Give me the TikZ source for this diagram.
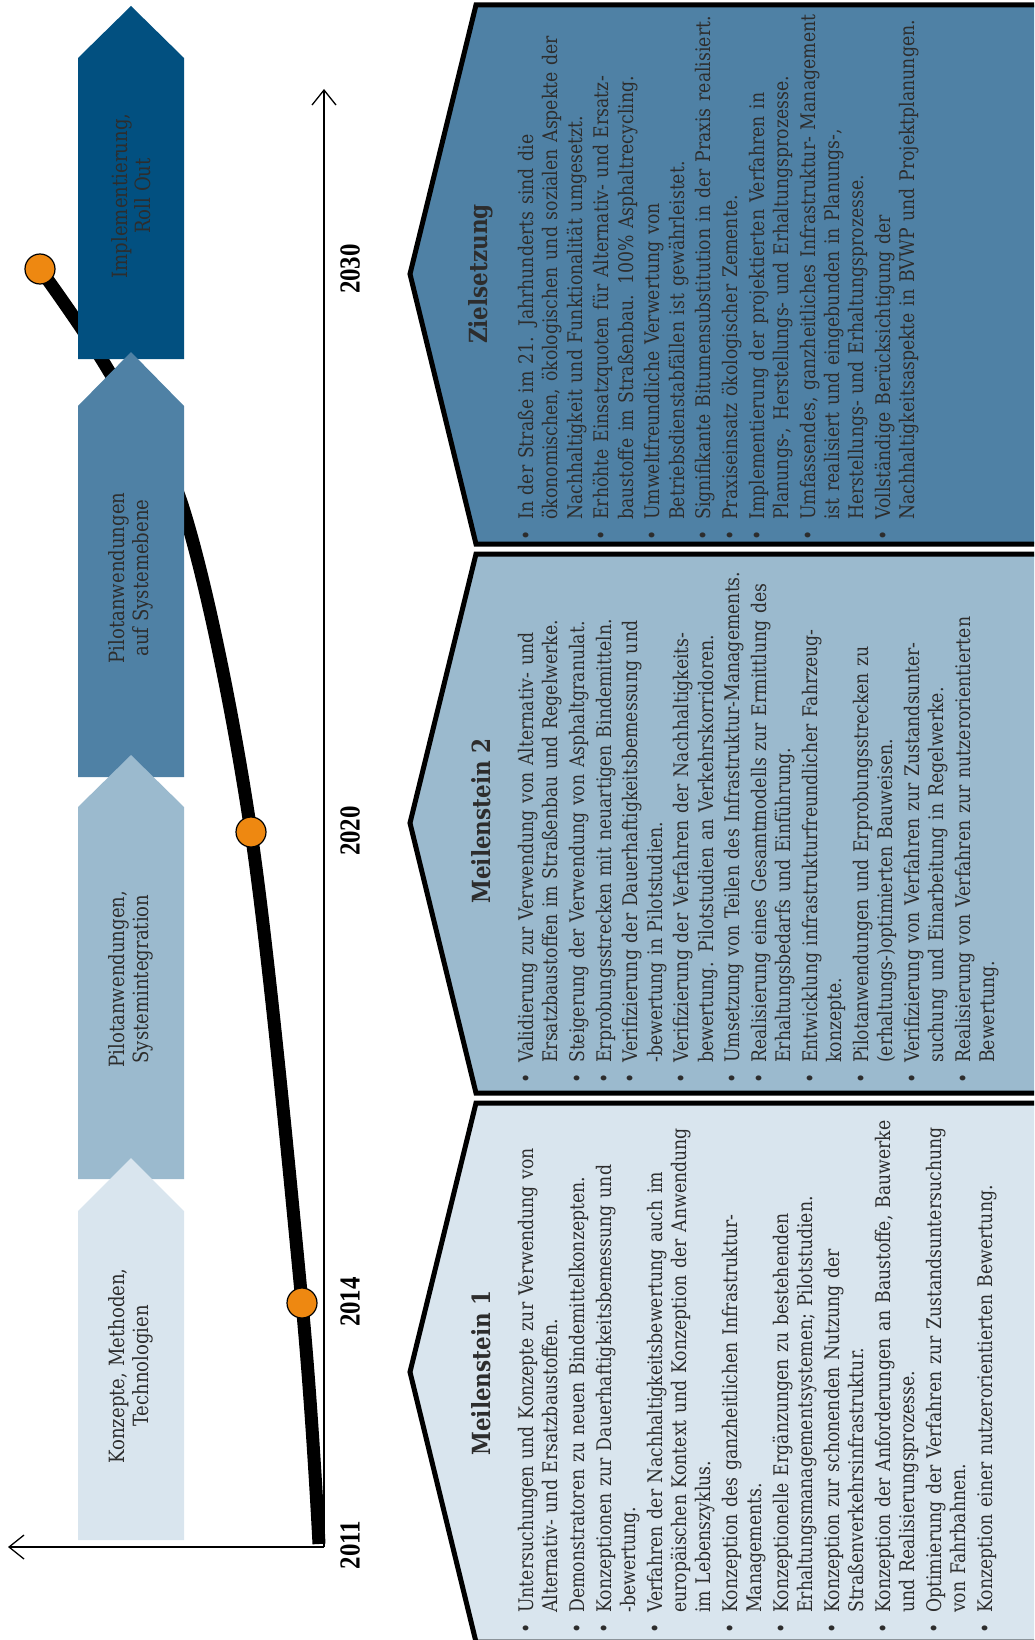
\documentclass[tikz,border=0pt]{standalone}
\usepackage{fontspec}
\setmainfont{DejaVu Serif}[FakeStretch=0.86]
\newfontfamily\yearfont[FakeStretch=0.86]{Liberation Serif}
\usetikzlibrary{arrows.meta}
\definecolor{phaseone}{RGB}{217,229,238}
\definecolor{phasetwo}{RGB}{155,186,206}
\definecolor{phasethree}{RGB}{79,129,165}
\definecolor{phasefour}{RGB}{2,80,128}
\definecolor{dotorange}{RGB}{238,136,17}
\definecolor{txtgray}{RGB}{45,45,45}

\newenvironment{goallist}{\raggedright\begin{list}{\textbullet}{%
  \setlength{\leftmargin}{22pt}\setlength{\labelwidth}{12pt}%
  \setlength{\labelsep}{10pt}\setlength{\itemsep}{2.4pt}%
  \setlength{\parsep}{0pt}\setlength{\topsep}{0pt}%
  \setlength{\partopsep}{0pt}\setlength{\itemindent}{0pt}}}{\end{list}}

\begin{document}
\begin{tikzpicture}[x=1pt, y=-1pt,
    phasetext/.style={rotate=90, align=center, text=txtgray,
      font=\fontsize{21}{23.5}\selectfont},
    yearlabel/.style={rotate=90, font=\yearfont\bfseries\fontsize{29}{30}\selectfont},
    milestone/.style={circle, draw=black, line width=1.2pt, fill=dotorange,
      minimum size=30pt, inner sep=0pt},
    growth/.style={line width=13pt, black},
    axisline/.style={line width=1.3pt, -{Straight Barb[length=15pt,width=24pt]}},
    goalframe/.style={line width=5pt, draw=black},
    goalhead/.style={rotate=90, text=txtgray, font=\bfseries\fontsize{25}{28}\selectfont},
    goalbox/.style={rotate=90, anchor=north west, text width=600pt, inner sep=0pt,
      text=txtgray, font=\fontsize{20.1}{24.3}\selectfont}]
    \useasboundingbox (0,0) rectangle (1034,1640);
    \clip (0,0) rectangle (1034,1640);
    \def\al{78}
    \def\ar{184}
    \def\am{131}
    % milestones on the curve
    \coordinate (c2011) at (319,1544);
    \coordinate (c2014) at (302,1303);
    \coordinate (c2020) at (251,832);
    \coordinate (c2030) at (40,269);
    \draw[growth] plot[smooth, tension=0.55] coordinates {(c2011) (c2014) (c2020) (184,511) (107,368) (c2030)};
    % phases
    \fill[phasefour] (\al,359) -- (\al,58) -- (\am,6) -- (\ar,58) -- (\ar,359) -- cycle;
    \fill[phasethree] (\al,777) -- (\al,406) -- (\am,352) -- (\ar,406) -- (\ar,777) -- cycle;
    \fill[phasetwo] (\al,1179) -- (\al,807) -- (\am,755) -- (\ar,807) -- (\ar,1179) -- cycle;
    \fill[phaseone] (\al,1540) -- (\al,1211) -- (\am,1158) -- (\ar,1211) -- (\ar,1540) -- cycle;
    \node[phasetext] (rollout) at (\am,196) {Implementierung,\\Roll Out};
    \node[phasetext] (pilotsys) at (\am,578) {Pilotanwendungen\\auf Systemebene};
    \node[phasetext] (pilotint) at (\am,979) {Pilotanwendungen,\\Systemintegration};
    \node[phasetext] (konzepte) at (\am,1366) {Konzepte, Methoden,\\Technologien};
    \node[milestone] (m2014) at (c2014) {};
    \node[milestone] (m2020) at (c2020) {};
    \node[milestone] (m2030) at (c2030) {};
    % time axis
    \coordinate (origin) at (324,1547);
    \coordinate (tend) at (324,89);
    \coordinate (vend) at (8,1547);
    \draw[axisline] (origin) -- (tend);
    \draw[axisline] (origin) -- (vend);
    \node[yearlabel] (y2011) at (350,1545) {2011};
    \node[yearlabel] (y2014) at (350,1302) {2014};
    \node[yearlabel] (y2020) at (350,831) {2020};
    \node[yearlabel] (y2030) at (350,269) {2030};
    % goal boxes
    \filldraw[goalframe, fill=phasethree] (476,5) -- (1045,5) -- (1045,544) -- (476,544) -- (410,274) -- cycle;
    \filldraw[goalframe, fill=phasetwo] (476,554) -- (1045,554) -- (1045,1093) -- (476,1093) -- (410,823) -- cycle;
    \filldraw[goalframe, fill=phaseone] (476,1103) -- (1045,1103) -- (1045,1642) -- (476,1642) -- (410,1372) -- cycle;
    \node[goalhead] (zhead) at (481,274) {Zielsetzung};
    \node[goalhead] (m2head) at (481,821) {Meilenstein 2};
    \node[goalhead] (m1head) at (481,1373) {Meilenstein 1};
    \node[goalbox] (zlist) at (509,542) {\begin{goallist}
      \item In der Straße im 21. Jahrhunderts sind die\\ökonomischen, ökologischen und sozialen Aspekte der\\Nachhaltigkeit und Funktionalität umgesetzt.
      \item Erhöhte Einsatzquoten für Alternativ- und Ersatz-\\baustoffe im Straßenbau. 100\% Asphaltrecycling.
      \item Umweltfreundliche Verwertung von\\Betriebsdienstabfällen ist gewährleistet.
      \item Signifikante Bitumensubstitution in der Praxis realisiert.
      \item Praxiseinsatz ökologischer Zemente.
      \item Implementierung der projektierten Verfahren in\\Planungs-, Herstellungs- und Erhaltungsprozesse.
      \item Umfassendes, ganzheitliches Infrastruktur- Management\\ist realisiert und eingebunden in Planungs-,\\Herstellungs- und Erhaltungsprozesse.
      \item Vollständige Berücksichtigung der\\Nachhaltigkeitsaspekte in BVWP und Projektplanungen.
    \end{goallist}};
    \node[goalbox] (m2list) at (509,1085) {\begin{goallist}
      \item Validierung zur Verwendung von Alternativ- und\\Ersatzbaustoffen im Straßenbau und Regelwerke.
      \item Steigerung der Verwendung von Asphaltgranulat.
      \item Erprobungsstrecken mit neuartigen Bindemitteln.
      \item Verifizierung der Dauerhaftigkeitsbemessung und\\-bewertung in Pilotstudien.
      \item Verifizierung der Verfahren der Nachhaltigkeits-\\bewertung. Pilotstudien an Verkehrskorridoren.
      \item Umsetzung von Teilen des Infrastruktur-Managements.
      \item Realisierung eines Gesamtmodells zur Ermittlung des\\Erhaltungsbedarfs und Einführung.
      \item Entwicklung infrastrukturfreundlicher Fahrzeug-\\konzepte.
      \item Pilotanwendungen und Erprobungsstrecken zu\\(erhaltungs-)optimierten Bauweisen.
      \item Verifizierung von Verfahren zur Zustandsunter-\\suchung und Einarbeitung in Regelwerke.
      \item Realisierung von Verfahren zur nutzerorientierten\\Bewertung.
    \end{goallist}};
    \node[goalbox] (m1list) at (509,1635) {\begin{goallist}
      \item Untersuchungen und Konzepte zur Verwendung von\\Alternativ- und Ersatzbaustoffen.
      \item Demonstratoren zu neuen Bindemittelkonzepten.
      \item Konzeptionen zur Dauerhaftigkeitsbemessung und\\-bewertung.
      \item Verfahren der Nachhaltigkeitsbewertung auch im\\europäischen Kontext und Konzeption der Anwendung\\im Lebenszyklus.
      \item Konzeption des ganzheitlichen Infrastruktur-\\Managements.
      \item Konzeptionelle Ergänzungen zu bestehenden\\Erhaltungsmanagementsystemen; Pilotstudien.
      \item Konzeption zur schonenden Nutzung der\\Straßenverkehrsinfrastruktur.
      \item Konzeption der Anforderungen an Baustoffe, Bauwerke\\und Realisierungsprozesse.
      \item Optimierung der Verfahren zur Zustandsuntersuchung\\von Fahrbahnen.
      \item Konzeption einer nutzerorientierten Bewertung.
    \end{goallist}};
\end{tikzpicture}
\end{document}
